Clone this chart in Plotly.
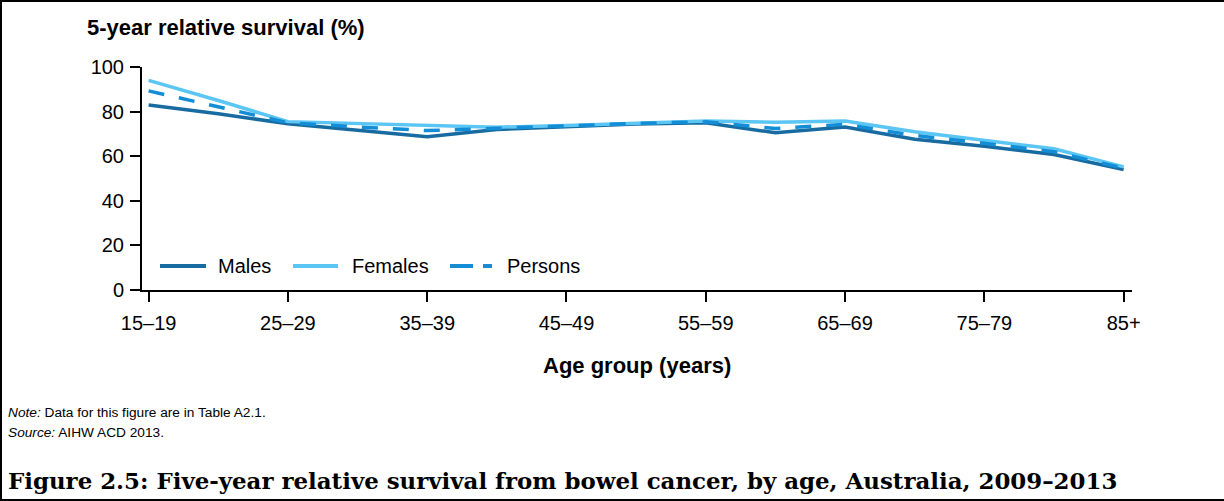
import plotly.graph_objects as go

age_groups = ["15–19", "20–24", "25–29", "30–34", "35–39", "40–44", "45–49", "50–54",
              "55–59", "60–64", "65–69", "70–74", "75–79", "80–84", "85+"]
tick_labels = ["15–19", "25–29", "35–39", "45–49", "55–59", "65–69", "75–79", "85+"]
males = [83.0, 79.0, 74.6, 71.6, 68.7, 72.0, 73.3, 74.4, 75.0, 70.5, 73.1, 67.6, 64.5, 60.8, 54.0]
females = [94.0, 85.0, 75.5, 74.8, 73.9, 73.0, 73.8, 74.9, 75.8, 75.2, 75.8, 71.0, 67.2, 63.3, 55.2]
persons = [89.3, 82.0, 75.0, 73.1, 71.5, 72.5, 73.6, 74.7, 75.4, 72.4, 74.3, 69.3, 65.8, 62.0, 54.6]
series_names = ["Males", "Females", "Persons"]

W, H = 1224, 501
L, R, T, B = 142, 92, 67, 211
pw, ph = W - L - R, H - T - B

def px(x):
    return (x - L) / pw

def py(y):
    return (H - B - y) / ph

colors = {"Males": "#176BA0", "Females": "#5BC6F4", "Persons": "#138DD6"}
dashes = {"Males": "solid", "Females": "solid", "Persons": "16px,15px"}

fig = go.Figure()
for name, vals in zip(series_names, [males, females, persons]):
    fig.add_trace(go.Scatter(x=age_groups, y=vals, name=name, mode="lines",
                             line=dict(color=colors[name], width=3.5, dash=dashes[name]),
                             showlegend=False))

font = "Liberation Sans, Arial, sans-serif"
fig.update_layout(
    width=W, height=H,
    margin=dict(l=L, r=R, t=T, b=B, pad=0),
    plot_bgcolor="white", paper_bgcolor="white",
    font=dict(family=font, size=20, color="black"),
    showlegend=False,
    xaxis=dict(type="category", categoryorder="array", categoryarray=age_groups,
               tickmode="array", tickvals=tick_labels, ticktext=tick_labels,
               range=[-0.095, 14.12], showline=True, linecolor="black", linewidth=2,
               ticks="outside", ticklen=10, tickwidth=2, tickcolor="black",
               showgrid=False, zeroline=False, tickfont=dict(size=20),
               ticklabelstandoff=4),
    yaxis=dict(range=[0, 100], dtick=20, showline=True, linecolor="black", linewidth=2,
               ticks="outside", ticklen=10, tickwidth=2, tickcolor="black",
               showgrid=False, zeroline=False, tickfont=dict(size=20),
               ticklabelstandoff=2),
)

# legend (drawn as key lines + labels)
legend_keys = [("Males", 160, 206, 216), ("Females", 293, 338, 350), ("Persons", 450, 492, 505)]
for name, x0, x1, tx in legend_keys:
    d = "solid" if name != "Persons" else "23px,10px"
    fig.add_shape(type="line", xref="paper", yref="paper", x0=px(x0), x1=px(x1),
                  y0=py(266), y1=py(266), line=dict(color=colors[name], width=4, dash=d))
    fig.add_annotation(text=name, xref="paper", yref="paper", x=px(tx), y=py(266),
                       xanchor="left", yanchor="middle", showarrow=False, font=dict(size=20))

annots = [
    dict(text="<b>5-year relative survival (%)</b>", x=px(85), y=py(28), xanchor="left",
         yanchor="middle", font=dict(size=22)),
    dict(text="<b>Age group (years)</b>", x=px(637), y=py(365), xanchor="center",
         yanchor="middle", font=dict(size=22)),
    dict(text="<i>Note:</i> Data for this figure are in Table A2.1.", x=px(6), y=py(412),
         xanchor="left", yanchor="middle", font=dict(size=13.7)),
    dict(text="<i>Source:</i> AIHW ACD 2013.", x=px(6), y=py(433),
         xanchor="left", yanchor="middle", font=dict(size=13.7)),
    dict(text="<b>Figure 2.5: Five-year relative survival from bowel cancer, by age, Australia, 2009–2013</b>",
         x=px(6), y=py(480), xanchor="left", yanchor="middle",
         font=dict(size=22.9, family="DejaVu Serif, serif")),
]
for a in annots:
    fig.add_annotation(xref="paper", yref="paper", showarrow=False, **a)

frame = dict(color="black", width=2)
fig.add_shape(type="line", xref="paper", yref="paper", x0=px(1), x1=px(1), y0=py(0), y1=py(501), line=frame)
fig.add_shape(type="line", xref="paper", yref="paper", x0=px(0), x1=px(1224), y0=py(1), y1=py(1), line=frame)
fig.add_shape(type="line", xref="paper", yref="paper", x0=px(0), x1=px(1224), y0=py(500), y1=py(500), line=frame)

fig.write_html("out.html", config={"displayModeBar": False},
               post_script="document.body.style.margin='0';")
